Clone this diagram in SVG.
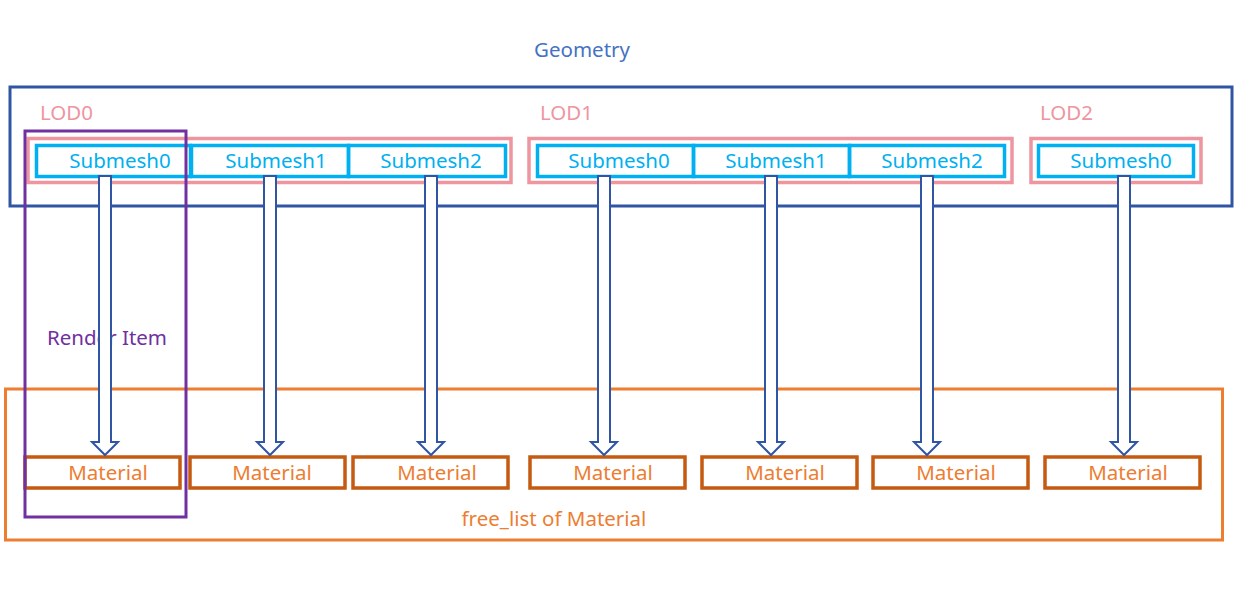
<svg xmlns="http://www.w3.org/2000/svg" width="1238" height="602" viewBox="0 0 1238 602">
<style>
text{font-family:"Noto Sans","Open Sans","Liberation Sans",sans-serif;font-size:20.5px}
.sm{fill:#00B0F0;text-anchor:middle}
.smb{fill:none;stroke:#00B0F0;stroke-width:3.5}
.lod{fill:none;stroke:#EE959F;stroke-width:3.5}
.lodt{fill:#EE959F}
.mat{fill:none;stroke:#C55A11;stroke-width:3.5}
.matt{fill:#ED7D31;text-anchor:middle}
.arr{fill:#fff;stroke:#2F55A4;stroke-width:2}
</style>
<rect width="1238" height="602" fill="#fff"/>
<g id="geometry">
<rect x="10" y="87" width="1222" height="119" fill="none" stroke="#2F55A4" stroke-width="3"/>
<text x="582" y="57" text-anchor="middle" fill="#4472C4">Geometry</text>
</g>
<g id="freelist">
<rect x="5.5" y="389" width="1217" height="151" fill="none" stroke="#ED7D31" stroke-width="3"/>
<text x="554" y="526" text-anchor="middle" fill="#ED7D31">free_list of Material</text>
</g>
<g id="lod0">
<rect class="lod" x="28" y="138.5" width="483" height="44"/>
<text class="lodt" x="40" y="120">LOD0</text>
</g>
<g id="lod1">
<rect class="lod" x="529" y="138.5" width="483" height="44"/>
<text class="lodt" x="540" y="120">LOD1</text>
</g>
<g id="lod2">
<rect class="lod" x="1031" y="138.5" width="170" height="44"/>
<text class="lodt" x="1040" y="120">LOD2</text>
</g>
<g id="lod0-submesh0"><rect class="smb" x="36.5" y="145.5" width="154" height="31"/><text class="sm" x="120" y="168">Submesh0</text></g>
<g id="lod0-submesh1"><rect class="smb" x="191.5" y="145.5" width="157" height="31"/><text class="sm" x="276" y="168">Submesh1</text></g>
<g id="lod0-submesh2"><rect class="smb" x="348.5" y="145.5" width="157" height="31"/><text class="sm" x="431" y="168">Submesh2</text></g>
<g id="lod1-submesh0"><rect class="smb" x="537.5" y="145.5" width="156" height="31"/><text class="sm" x="619" y="168">Submesh0</text></g>
<g id="lod1-submesh1"><rect class="smb" x="693.5" y="145.5" width="156" height="31"/><text class="sm" x="776" y="168">Submesh1</text></g>
<g id="lod1-submesh2"><rect class="smb" x="849.5" y="145.5" width="155" height="31"/><text class="sm" x="932" y="168">Submesh2</text></g>
<g id="lod2-submesh0"><rect class="smb" x="1038.5" y="145.5" width="155" height="31"/><text class="sm" x="1121" y="168">Submesh0</text></g>
<g id="material1"><rect class="mat" x="25" y="457" width="155" height="31"/><text class="matt" x="108" y="480">Material</text></g>
<g id="material2"><rect class="mat" x="190" y="457" width="155" height="31"/><text class="matt" x="272" y="480">Material</text></g>
<g id="material3"><rect class="mat" x="353" y="457" width="155" height="31"/><text class="matt" x="437" y="480">Material</text></g>
<g id="material4"><rect class="mat" x="530" y="457" width="155" height="31"/><text class="matt" x="613" y="480">Material</text></g>
<g id="material5"><rect class="mat" x="702" y="457" width="155" height="31"/><text class="matt" x="785" y="480">Material</text></g>
<g id="material6"><rect class="mat" x="873" y="457" width="155" height="31"/><text class="matt" x="956" y="480">Material</text></g>
<g id="material7"><rect class="mat" x="1045" y="457" width="155" height="31"/><text class="matt" x="1128" y="480">Material</text></g>
<g id="renderitem">
<rect x="25" y="131" width="161" height="386" fill="none" stroke="#7030A0" stroke-width="3"/>
<text x="47" y="345" fill="#7030A0">Render Item</text>
</g>
<g id="connectors">
<path class="arr" d="M99,176 H111 V442 H118 L105,455 L92,442 H99 Z"/>
<path class="arr" d="M264,176 H276 V442 H283 L270,455 L257,442 H264 Z"/>
<path class="arr" d="M425,176 H437 V442 H444 L431,455 L418,442 H425 Z"/>
<path class="arr" d="M598,176 H610 V442 H617 L604,455 L591,442 H598 Z"/>
<path class="arr" d="M765,176 H777 V442 H784 L771,455 L758,442 H765 Z"/>
<path class="arr" d="M921,176 H933 V442 H940 L927,455 L914,442 H921 Z"/>
<path class="arr" d="M1118,176 H1130 V442 H1137 L1124,455 L1111,442 H1118 Z"/>
</g>
</svg>
